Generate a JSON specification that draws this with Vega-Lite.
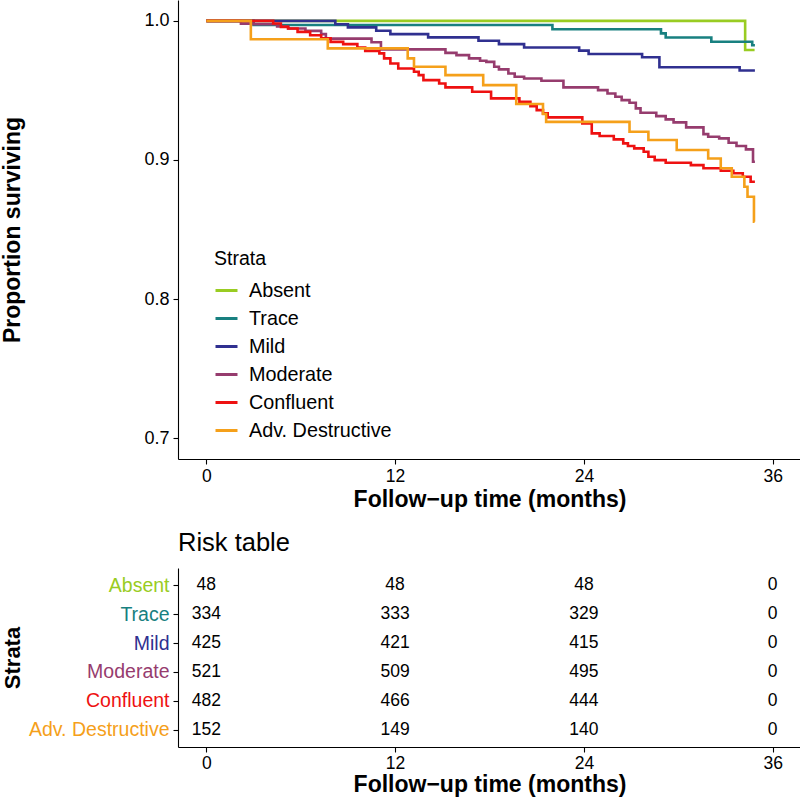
{
  "$schema": "https://vega.github.io/schema/vega-lite/v6.json",
  "padding": {"left": 0, "top": 0, "right": 0, "bottom": 0},
  "config": {
    "font": "Liberation Sans",
    "view": {"stroke": null},
    "axis": {"grid": false, "domainColor": "black", "domainWidth": 1.1, "tickColor": "black", "tickWidth": 1.1, "tickSize": 5, "labelFontSize": 17.5, "labelPadding": 4, "titleColor": "black", "titleFontSize": 23, "titleFontWeight": "bold"},
    "title": {"color": "black"}
  },
  "datasets": {
    "km": [
      {"strata": "Absent", "t": 0, "s": 1},
      {"strata": "Absent", "t": 34.25, "s": 0.979},
      {"strata": "Absent", "t": 34.85, "s": 0.979},
      {"strata": "Trace", "t": 0, "s": 1},
      {"strata": "Trace", "t": 3.0, "s": 0.997},
      {"strata": "Trace", "t": 22.0, "s": 0.994},
      {"strata": "Trace", "t": 28.9, "s": 0.991},
      {"strata": "Trace", "t": 29.2, "s": 0.988},
      {"strata": "Trace", "t": 32.1, "s": 0.985},
      {"strata": "Trace", "t": 34.7, "s": 0.9825},
      {"strata": "Trace", "t": 34.87, "s": 0.9825},
      {"strata": "Mild", "t": 0, "s": 1},
      {"strata": "Mild", "t": 8.2, "s": 0.9976},
      {"strata": "Mild", "t": 9.0, "s": 0.9953},
      {"strata": "Mild", "t": 10.8, "s": 0.9929},
      {"strata": "Mild", "t": 11.7, "s": 0.9905},
      {"strata": "Mild", "t": 14.1, "s": 0.9881},
      {"strata": "Mild", "t": 17.3, "s": 0.9857},
      {"strata": "Mild", "t": 18.6, "s": 0.9833},
      {"strata": "Mild", "t": 20.2, "s": 0.9809},
      {"strata": "Mild", "t": 23.7, "s": 0.9786},
      {"strata": "Mild", "t": 24.3, "s": 0.9762},
      {"strata": "Mild", "t": 27.7, "s": 0.9738},
      {"strata": "Mild", "t": 28.8, "s": 0.9666},
      {"strata": "Mild", "t": 33.9, "s": 0.9643},
      {"strata": "Mild", "t": 34.87, "s": 0.9643},
      {"strata": "Moderate", "t": 0, "s": 1},
      {"strata": "Moderate", "t": 2.2, "s": 0.998},
      {"strata": "Moderate", "t": 3.0, "s": 0.9976},
      {"strata": "Moderate", "t": 4.5, "s": 0.996},
      {"strata": "Moderate", "t": 5.2, "s": 0.9945},
      {"strata": "Moderate", "t": 6.3, "s": 0.9928},
      {"strata": "Moderate", "t": 7.3, "s": 0.9905},
      {"strata": "Moderate", "t": 7.6, "s": 0.9872},
      {"strata": "Moderate", "t": 10.5, "s": 0.9846},
      {"strata": "Moderate", "t": 11.1, "s": 0.9795},
      {"strata": "Moderate", "t": 15.2, "s": 0.977},
      {"strata": "Moderate", "t": 15.9, "s": 0.9754},
      {"strata": "Moderate", "t": 16.7, "s": 0.973},
      {"strata": "Moderate", "t": 17.4, "s": 0.9713},
      {"strata": "Moderate", "t": 17.8, "s": 0.9705},
      {"strata": "Moderate", "t": 18.3, "s": 0.967},
      {"strata": "Moderate", "t": 18.6, "s": 0.9651},
      {"strata": "Moderate", "t": 19.2, "s": 0.9622},
      {"strata": "Moderate", "t": 19.6, "s": 0.9598},
      {"strata": "Moderate", "t": 20.2, "s": 0.9586},
      {"strata": "Moderate", "t": 21.3, "s": 0.9569},
      {"strata": "Moderate", "t": 22.7, "s": 0.9522},
      {"strata": "Moderate", "t": 24.9, "s": 0.9502},
      {"strata": "Moderate", "t": 25.5, "s": 0.9478},
      {"strata": "Moderate", "t": 26.0, "s": 0.9454},
      {"strata": "Moderate", "t": 26.4, "s": 0.943},
      {"strata": "Moderate", "t": 26.9, "s": 0.9411},
      {"strata": "Moderate", "t": 27.3, "s": 0.9371},
      {"strata": "Moderate", "t": 27.6, "s": 0.9339},
      {"strata": "Moderate", "t": 28.6, "s": 0.9315},
      {"strata": "Moderate", "t": 29.2, "s": 0.9292},
      {"strata": "Moderate", "t": 29.7, "s": 0.927},
      {"strata": "Moderate", "t": 30.5, "s": 0.9234},
      {"strata": "Moderate", "t": 31.6, "s": 0.9186},
      {"strata": "Moderate", "t": 31.9, "s": 0.9167},
      {"strata": "Moderate", "t": 32.6, "s": 0.9155},
      {"strata": "Moderate", "t": 33.2, "s": 0.9124},
      {"strata": "Moderate", "t": 33.7, "s": 0.91},
      {"strata": "Moderate", "t": 34.3, "s": 0.9076},
      {"strata": "Moderate", "t": 34.75, "s": 0.8987},
      {"strata": "Moderate", "t": 34.87, "s": 0.8987},
      {"strata": "Confluent", "t": 0, "s": 1},
      {"strata": "Confluent", "t": 4.25, "s": 0.9981},
      {"strata": "Confluent", "t": 4.74, "s": 0.9957},
      {"strata": "Confluent", "t": 5.2, "s": 0.9945},
      {"strata": "Confluent", "t": 5.8, "s": 0.9921},
      {"strata": "Confluent", "t": 6.6, "s": 0.9897},
      {"strata": "Confluent", "t": 7.3, "s": 0.9874},
      {"strata": "Confluent", "t": 7.9, "s": 0.9849},
      {"strata": "Confluent", "t": 8.7, "s": 0.9833},
      {"strata": "Confluent", "t": 9.6, "s": 0.9809},
      {"strata": "Confluent", "t": 10.1, "s": 0.9784},
      {"strata": "Confluent", "t": 11.0, "s": 0.9766},
      {"strata": "Confluent", "t": 11.3, "s": 0.973},
      {"strata": "Confluent", "t": 11.7, "s": 0.9694},
      {"strata": "Confluent", "t": 12.2, "s": 0.9658},
      {"strata": "Confluent", "t": 13.2, "s": 0.9634},
      {"strata": "Confluent", "t": 13.5, "s": 0.961},
      {"strata": "Confluent", "t": 13.8, "s": 0.9574},
      {"strata": "Confluent", "t": 14.8, "s": 0.955},
      {"strata": "Confluent", "t": 15.2, "s": 0.9522},
      {"strata": "Confluent", "t": 16.9, "s": 0.949},
      {"strata": "Confluent", "t": 18.1, "s": 0.9443},
      {"strata": "Confluent", "t": 19.9, "s": 0.9418},
      {"strata": "Confluent", "t": 20.6, "s": 0.9387},
      {"strata": "Confluent", "t": 21.0, "s": 0.9358},
      {"strata": "Confluent", "t": 21.4, "s": 0.9335},
      {"strata": "Confluent", "t": 21.7, "s": 0.9306},
      {"strata": "Confluent", "t": 23.9, "s": 0.9263},
      {"strata": "Confluent", "t": 24.5, "s": 0.9191},
      {"strata": "Confluent", "t": 25.0, "s": 0.9172},
      {"strata": "Confluent", "t": 25.9, "s": 0.9148},
      {"strata": "Confluent", "t": 26.5, "s": 0.9119},
      {"strata": "Confluent", "t": 26.8, "s": 0.91},
      {"strata": "Confluent", "t": 27.2, "s": 0.9083},
      {"strata": "Confluent", "t": 27.8, "s": 0.9059},
      {"strata": "Confluent", "t": 28.1, "s": 0.9023},
      {"strata": "Confluent", "t": 28.5, "s": 0.8999},
      {"strata": "Confluent", "t": 29.2, "s": 0.898},
      {"strata": "Confluent", "t": 30.8, "s": 0.8963},
      {"strata": "Confluent", "t": 31.6, "s": 0.894},
      {"strata": "Confluent", "t": 32.7, "s": 0.8922},
      {"strata": "Confluent", "t": 33.5, "s": 0.8904},
      {"strata": "Confluent", "t": 34.1, "s": 0.8879},
      {"strata": "Confluent", "t": 34.6, "s": 0.8843},
      {"strata": "Confluent", "t": 34.87, "s": 0.8843},
      {"strata": "Adv. Destructive", "t": 0, "s": 1},
      {"strata": "Adv. Destructive", "t": 2.83, "s": 0.9868},
      {"strata": "Adv. Destructive", "t": 7.72, "s": 0.9802},
      {"strata": "Adv. Destructive", "t": 12.8, "s": 0.973},
      {"strata": "Adv. Destructive", "t": 13.2, "s": 0.967},
      {"strata": "Adv. Destructive", "t": 15.2, "s": 0.961},
      {"strata": "Adv. Destructive", "t": 17.6, "s": 0.9538},
      {"strata": "Adv. Destructive", "t": 19.7, "s": 0.9402},
      {"strata": "Adv. Destructive", "t": 21.4, "s": 0.933},
      {"strata": "Adv. Destructive", "t": 21.6, "s": 0.9274},
      {"strata": "Adv. Destructive", "t": 26.9, "s": 0.9203},
      {"strata": "Adv. Destructive", "t": 28.1, "s": 0.9143},
      {"strata": "Adv. Destructive", "t": 29.9, "s": 0.9072},
      {"strata": "Adv. Destructive", "t": 31.9, "s": 0.9011},
      {"strata": "Adv. Destructive", "t": 32.7, "s": 0.894},
      {"strata": "Adv. Destructive", "t": 33.4, "s": 0.8879},
      {"strata": "Adv. Destructive", "t": 34.2, "s": 0.8807},
      {"strata": "Adv. Destructive", "t": 34.4, "s": 0.8736},
      {"strata": "Adv. Destructive", "t": 34.81, "s": 0.8556},
      {"strata": "Adv. Destructive", "t": 34.85, "s": 0.8556}
    ],
    "risk": [
      {"strata": "Absent", "t": 0, "n": 48}, {"strata": "Absent", "t": 12, "n": 48}, {"strata": "Absent", "t": 24, "n": 48}, {"strata": "Absent", "t": 36, "n": 0},
      {"strata": "Trace", "t": 0, "n": 334}, {"strata": "Trace", "t": 12, "n": 333}, {"strata": "Trace", "t": 24, "n": 329}, {"strata": "Trace", "t": 36, "n": 0},
      {"strata": "Mild", "t": 0, "n": 425}, {"strata": "Mild", "t": 12, "n": 421}, {"strata": "Mild", "t": 24, "n": 415}, {"strata": "Mild", "t": 36, "n": 0},
      {"strata": "Moderate", "t": 0, "n": 521}, {"strata": "Moderate", "t": 12, "n": 509}, {"strata": "Moderate", "t": 24, "n": 495}, {"strata": "Moderate", "t": 36, "n": 0},
      {"strata": "Confluent", "t": 0, "n": 482}, {"strata": "Confluent", "t": 12, "n": 466}, {"strata": "Confluent", "t": 24, "n": 444}, {"strata": "Confluent", "t": 36, "n": 0},
      {"strata": "Adv. Destructive", "t": 0, "n": 152}, {"strata": "Adv. Destructive", "t": 12, "n": 149}, {"strata": "Adv. Destructive", "t": 24, "n": 140}, {"strata": "Adv. Destructive", "t": 36, "n": 0}
    ]
  },
  "resolve": {"scale": {"x": "independent", "y": "independent", "color": "independent"}},
  "spacing": 18,
  "vconcat": [
    {
      "width": 623,
      "height": 459,
      "data": {"name": "km"},
      "mark": {"type": "line", "interpolate": "step-after", "strokeWidth": 2.6},
      "encoding": {
        "x": {"field": "t", "type": "quantitative", "scale": {"domain": [-1.8, 37.8], "nice": false, "zero": false},
              "axis": {"values": [0, 12, 24, 36], "title": "Follow−up time (months)", "titlePadding": 4, "labelPadding": 3, "labelColor": "black"}},
        "y": {"field": "s", "type": "quantitative", "scale": {"domain": [0.685, 1.015], "nice": false, "zero": false},
              "axis": {"values": [0.7, 0.8, 0.9, 1.0], "format": ".1f", "title": "Proportion surviving", "titleX": -159, "titleBaseline": "alphabetic", "labelColor": "black", "labelFontSize": 18}},
        "color": {"field": "strata", "type": "nominal",
                  "scale": {"domain": ["Absent", "Trace", "Mild", "Moderate", "Confluent", "Adv. Destructive"],
                            "range": ["#99CC22", "#188080", "#303090", "#963C6E", "#EE1111", "#F5A01A"]},
                  "legend": {"orient": "none", "legendX": 36, "legendY": 249.5, "title": "Strata", "titleFontSize": 19.5, "titleFontWeight": "normal", "titleColor": "black",
                             "labelFontSize": 19.8, "labelColor": "black", "symbolType": "stroke", "symbolSize": 484, "symbolStrokeWidth": 3,
                             "rowPadding": 5, "titlePadding": 9, "labelOffset": 10, "padding": 0}}
      }
    },
    {
      "width": 623,
      "height": 179,
      "title": {"text": "Risk table", "anchor": "start", "frame": "group", "fontSize": 25.5, "fontWeight": "normal", "offset": 12, "color": "black"},
      "data": {"name": "risk"},
      "mark": {"type": "text", "fontSize": 17.5, "color": "black"},
      "encoding": {
        "x": {"field": "t", "type": "quantitative", "scale": {"domain": [-1.8, 37.8], "nice": false, "zero": false},
              "axis": {"values": [0, 12, 24, 36], "title": "Follow−up time (months)", "titlePadding": 2, "labelPadding": 2, "labelColor": "black"}},
        "y": {"field": "strata", "type": "ordinal",
              "scale": {"type": "point", "padding": 0.6, "domain": ["Absent", "Trace", "Mild", "Moderate", "Confluent", "Adv. Destructive"]},
              "axis": {"title": "Strata", "titleX": -159, "titleBaseline": "alphabetic", "titleFontSize": 22, "labelFontSize": 19.5,
                       "labelColor": {"condition": [
                         {"test": "datum.value === 'Absent'", "value": "#99CC22"},
                         {"test": "datum.value === 'Trace'", "value": "#188080"},
                         {"test": "datum.value === 'Mild'", "value": "#303090"},
                         {"test": "datum.value === 'Moderate'", "value": "#963C6E"},
                         {"test": "datum.value === 'Confluent'", "value": "#EE1111"}
                       ], "value": "#F5A01A"}}},
        "text": {"field": "n", "type": "quantitative"}
      }
    }
  ]
}
